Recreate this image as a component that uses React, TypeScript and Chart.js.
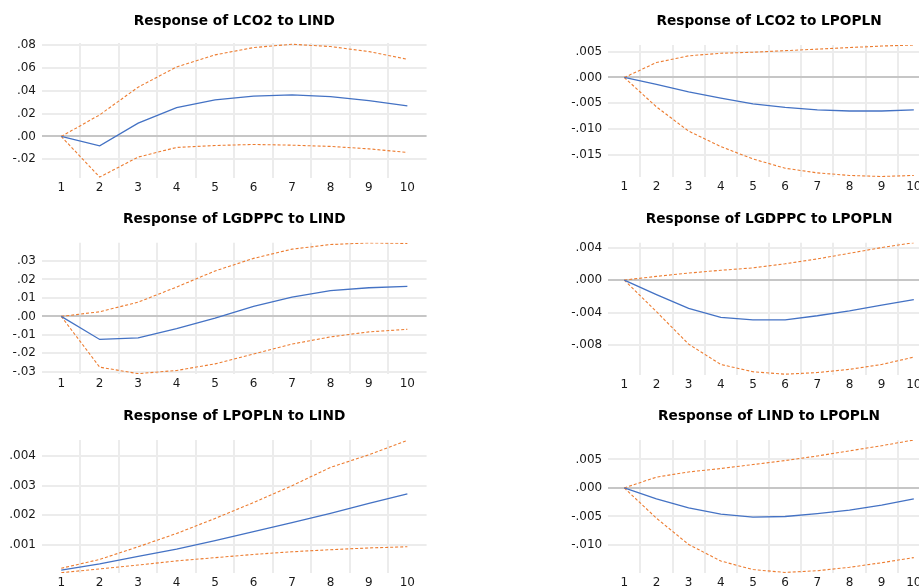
import React, { useEffect, useRef } from "react";
import { Chart, registerables } from "chart.js";

Chart.register(...registerables);

// ---------- data ----------
const periods = ["1", "2", "3", "4", "5", "6", "7", "8", "9", "10"];

// Response of LCO2 to LIND
const lco2LindIrf = [0, -0.0082, 0.0116, 0.0253, 0.032, 0.0352, 0.0364, 0.0349, 0.0314, 0.0268];
const lco2LindUpper = [0, 0.0189, 0.0431, 0.0608, 0.0713, 0.0777, 0.0806, 0.0786, 0.0742, 0.0675];
const lco2LindLower = [0, -0.0355, -0.018, -0.0096, -0.0079, -0.007, -0.0076, -0.0087, -0.0108, -0.014];
const lco2LindTicks = [-0.02, 0, 0.02, 0.04, 0.06, 0.08];

// Response of LCO2 to LPOPLN
const lco2PopIrf = [0, -0.00135, -0.0028, -0.004, -0.0051, -0.0058, -0.0063, -0.0065, -0.0065, -0.0063];
const lco2PopUpper = [0, 0.0029, 0.0042, 0.0047, 0.0049, 0.0052, 0.0055, 0.0058, 0.0061, 0.0063];
const lco2PopLower = [0, -0.0057, -0.0104, -0.0134, -0.0158, -0.0176, -0.0185, -0.019, -0.0192, -0.019];
const lco2PopTicks = [-0.015, -0.01, -0.005, 0, 0.005];

// Response of LGDPPC to LIND
const gdpLindIrf = [0, -0.0125, -0.0116, -0.0066, -0.0009, 0.0054, 0.0104, 0.0139, 0.0155, 0.0162];
const gdpLindUpper = [0, 0.0025, 0.0077, 0.0159, 0.0246, 0.0314, 0.0364, 0.0389, 0.0398, 0.0395];
const gdpLindLower = [0, -0.0275, -0.031, -0.0293, -0.0257, -0.0204, -0.015, -0.0111, -0.0084, -0.007];
const gdpLindTicks = [-0.03, -0.02, -0.01, 0, 0.01, 0.02, 0.03];

// Response of LGDPPC to LPOPLN
const gdpPopIrf = [0, -0.0018, -0.0035, -0.0046, -0.0049, -0.0049, -0.0044, -0.0038, -0.0031, -0.0024];
const gdpPopUpper = [0, 0.00045, 0.00086, 0.0012, 0.0015, 0.002, 0.0026, 0.0033, 0.004, 0.0046];
const gdpPopLower = [0, -0.0039, -0.0079, -0.0104, -0.0113, -0.0116, -0.0114, -0.011, -0.0104, -0.0095];
const gdpPopTicks = [-0.008, -0.004, 0, 0.004];

// Response of LPOPLN to LIND
const popLindIrf = [0.00014, 0.00035, 0.0006, 0.00085, 0.00114, 0.00144, 0.00175, 0.00206, 0.0024, 0.00272];
const popLindUpper = [0.0002, 0.0005, 0.00093, 0.00138, 0.00189, 0.00243, 0.003, 0.00362, 0.00405, 0.00454];
const popLindLower = [0.00005, 0.00018, 0.00031, 0.00045, 0.00056, 0.00067, 0.00076, 0.00083, 0.00089, 0.00093];
const popLindTicks = [0.001, 0.002, 0.003, 0.004];

// Response of LIND to LPOPLN
const lindPopIrf = [0, -0.0019, -0.0035, -0.0046, -0.0051, -0.005, -0.0045, -0.0039, -0.003, -0.0019];
const lindPopUpper = [0, 0.0019, 0.0028, 0.0034, 0.0041, 0.0048, 0.0056, 0.0065, 0.0074, 0.0084];
const lindPopLower = [0, -0.0053, -0.0099, -0.0128, -0.0143, -0.0148, -0.0145, -0.0139, -0.0131, -0.0122];
const lindPopTicks = [-0.01, -0.005, 0, 0.005];

// ---------- panels ----------
type Panel = {
  title: string;
  irf: number[];
  upper: number[];
  lower: number[];
  ticks: number[];
  decimals: number;
  min: number;
  max: number;
  left: number;
  top: number;
  width: number;
  height: number;
  axisWidth: number;
  padTop: number;
  padRight: number;
  titleOffset: number;
};

const panels: Panel[] = [
  { title: "Response of LCO2 to LIND", irf: lco2LindIrf, upper: lco2LindUpper, lower: lco2LindLower, ticks: lco2LindTicks, decimals: 2, min: -0.0363, max: 0.0817,
    left: 0, top: 0, width: 460, height: 200, axisWidth: 42, padTop: 43, padRight: 33.4, titleOffset: 22 },
  { title: "Response of LCO2 to LPOPLN", irf: lco2PopIrf, upper: lco2PopUpper, lower: lco2PopLower, ticks: lco2PopTicks, decimals: 3, min: -0.0193, max: 0.0063,
    left: 540, top: 0, width: 400, height: 198.7, axisWidth: 68.2, padTop: 45, padRight: 10.1, titleOffset: 24 },
  { title: "Response of LGDPPC to LIND", irf: gdpLindIrf, upper: gdpLindUpper, lower: gdpLindLower, ticks: gdpLindTicks, decimals: 2, min: -0.0312, max: 0.0399,
    left: 0, top: 200, width: 460, height: 196, axisWidth: 42, padTop: 42.7, padRight: 33.4, titleOffset: 23.7 },
  { title: "Response of LGDPPC to LPOPLN", irf: gdpPopIrf, upper: gdpPopUpper, lower: gdpPopLower, ticks: gdpPopTicks, decimals: 3, min: -0.0117, max: 0.0046,
    left: 540, top: 200, width: 400, height: 197, axisWidth: 68.2, padTop: 42.7, padRight: 10.1, titleOffset: 23.7 },
  { title: "Response of LPOPLN to LIND", irf: popLindIrf, upper: popLindUpper, lower: popLindLower, ticks: popLindTicks, decimals: 3, min: 0.00004, max: 0.00455,
    left: 0, top: 396, width: 460, height: 198.7, axisWidth: 42, padTop: 44, padRight: 33.4, titleOffset: 23.3 },
  { title: "Response of LIND to LPOPLN", irf: lindPopIrf, upper: lindPopUpper, lower: lindPopLower, ticks: lindPopTicks, decimals: 3, min: -0.0149, max: 0.0084,
    left: 540, top: 396, width: 400, height: 198.7, axisWidth: 68.2, padTop: 44, padRight: 10.1, titleOffset: 23.3 },
];

const FONT = '"DejaVu Sans", Verdana, sans-serif';
const BLUE = "#4472C4";
const ORANGE = "#ED7D31";

const fmt = (v: number, d: number) => {
  const s = Math.abs(v).toFixed(d).replace(/^0\./, ".");
  return v < 0 ? "-" + s : s;
};

const titlePlugin = {
  id: "panelTitle",
  afterDraw(chart: any, _args: any, opts: any) {
    const { ctx, chartArea } = chart;
    ctx.save();
    ctx.font = `bold 13.7px ${FONT}`;
    ctx.fillStyle = "#000000";
    ctx.textAlign = "center";
    ctx.textBaseline = "middle";
    ctx.fillText(opts.text, (chartArea.left + chartArea.right) / 2, chartArea.top - opts.offset);
    ctx.restore();
  },
};

function PanelChart({ p }: { p: Panel }) {
  const ref = useRef<HTMLCanvasElement | null>(null);
  useEffect(() => {
    if (!ref.current) return;
    const chart = new Chart(ref.current, {
      type: "line",
      data: {
        labels: periods,
        datasets: [
          { data: p.irf, borderColor: BLUE, borderWidth: 1.3, pointRadius: 0, tension: 0, fill: false },
          { data: p.upper, borderColor: ORANGE, borderWidth: 1.1, borderDash: [3, 2], pointRadius: 0, tension: 0, fill: false },
          { data: p.lower, borderColor: ORANGE, borderWidth: 1.1, borderDash: [3, 2], pointRadius: 0, tension: 0, fill: false },
        ],
      },
      plugins: [titlePlugin],
      options: {
        responsive: false,
        animation: false,
        events: [],
        layout: { padding: { left: 0, right: p.padRight, top: p.padTop, bottom: 0 } },
        plugins: {
          legend: { display: false },
          title: { display: false },
          tooltip: { enabled: false },
          panelTitle: { text: p.title, offset: p.titleOffset },
        } as any,
        scales: {
          x: {
            type: "category",
            offset: true,
            border: { display: false },
            grid: {
              offset: true,
              drawTicks: false,
              lineWidth: 2,
              color: (ctx: any) =>
                ctx.type !== "tick" || ctx.index === 0 ? "rgba(0,0,0,0)" : "#ececec",
            },
            ticks: { padding: 3, color: "#1a1a1a", font: { family: FONT, size: 12 }, maxRotation: 0, autoSkip: false },
            afterFit: (s: any) => { s.height = 22; },
          },
          y: {
            type: "linear",
            min: p.min,
            max: p.max,
            border: { display: false },
            grid: {
              drawTicks: false,
              lineWidth: 2,
              color: (ctx: any) => (ctx.tick && ctx.tick.value === 0 ? "#c6c6c6" : "#ececec"),
            },
            ticks: {
              padding: 6,
              color: "#1a1a1a",
              font: { family: FONT, size: 12 },
              callback: (v: any) => fmt(Number(v), p.decimals),
            },
            afterBuildTicks: (s: any) => { s.ticks = p.ticks.map((v) => ({ value: v })); },
            afterFit: (s: any) => { s.width = p.axisWidth; },
          },
        },
      },
    } as any);
    return () => chart.destroy();
  }, [p]);
  return (
    <canvas
      ref={ref}
      width={Math.round(p.width)}
      height={Math.round(p.height)}
      style={{ position: "absolute", left: p.left, top: p.top, width: Math.round(p.width), height: Math.round(p.height) }}
    />
  );
}

export default function App() {
  return (
    <div style={{ position: "fixed", left: 0, top: 0, width: 919, height: 587, overflow: "hidden", background: "#ffffff" }}>
      {panels.map((p) => (
        <PanelChart key={p.title} p={p} />
      ))}
    </div>
  );
}
